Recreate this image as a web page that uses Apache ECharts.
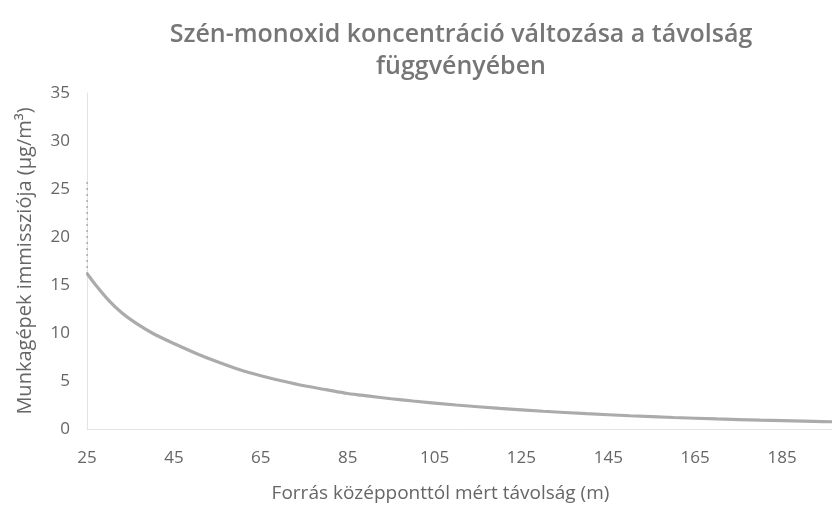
<!DOCTYPE html>
<html>
<head>
<meta charset="utf-8">
<script src="https://cdn.jsdelivr.net/npm/echarts@6/dist/echarts.min.js"></script>
<style>
  html, body { margin: 0; padding: 0; background: #ffffff; }
  #chart { width: 832px; height: 508px; }
</style>
</head>
<body>
<div id="chart"></div>
<script>
// Distance from the source centre (m)
const distances = [25, 27, 30, 33, 36, 40, 45, 50, 55, 60, 65, 70, 75, 80, 85, 90, 95, 100,
                   110, 120, 130, 140, 150, 160, 170, 180, 190, 200];
// CO immission from construction machinery (µg/m³)
const concentrations = [16.2, 15.0, 13.4, 12.1, 11.1, 10.0, 8.9, 7.9, 7.0, 6.2, 5.55, 5.0, 4.5, 4.1, 3.7, 3.42, 3.15, 2.92,
                        2.5, 2.15, 1.85, 1.6, 1.38, 1.2, 1.05, 0.92, 0.82, 0.72];
// Readings taken right at the 25 m boundary
const edgeDistances = [25, 25];
const edgeValues = [16.2, 26.2];

const titleLines = ['Szén-monoxid koncentráció változása a távolság', 'függvényében'];
const xName = 'Forrás középponttól mért távolság (m)';
const yName = 'Munkagépek immissziója (µg/m³)';

const font = '"Open Sans", "Noto Sans", sans-serif';
const chart = echarts.init(document.getElementById('chart'), null, { renderer: 'canvas' });

chart.setOption({
  backgroundColor: '#ffffff',
  animation: false,
  title: {
    text: titleLines.join('\n'),
    left: 456,
    top: 14,
    textAlign: 'center',
    textStyle: {
      fontFamily: font,
      fontSize: 25,
      fontWeight: 600,
      color: '#767676',
      lineHeight: 32
    }
  },
  grid: { left: 87, right: 0, top: 93, height: 337, containLabel: false },
  xAxis: {
    type: 'value',
    min: 25,
    max: 196.5,
    interval: 20,
    name: xName,
    nameLocation: 'middle',
    nameGap: 55,
    nameTextStyle: {
      fontFamily: font, fontSize: 19, color: '#666666',
      padding: [0, 38, 0, 0]
    },
    axisLine: { show: true, lineStyle: { color: '#e3e3e3', width: 1 } },
    axisTick: { show: false },
    splitLine: { show: false },
    axisLabel: {
      fontFamily: font, fontSize: 17, color: '#666666', margin: 21,
      showMaxLabel: false
    }
  },
  yAxis: {
    type: 'value',
    min: 0,
    max: 35,
    interval: 5,
    name: yName,
    nameLocation: 'middle',
    nameGap: 52,
    nameRotate: 90,
    nameTextStyle: { fontFamily: font, fontSize: 20, color: '#666666' },
    axisLine: { show: true, lineStyle: { color: '#e3e3e3', width: 1 } },
    axisTick: { show: false },
    splitLine: { show: false },
    axisLabel: { fontFamily: font, fontSize: 17, color: '#666666', margin: 17 }
  },
  series: [
    {
      type: 'line',
      data: distances.map((d, i) => [d, concentrations[i]]),
      smooth: 0.3,
      showSymbol: false,
      clip: true,
      lineStyle: { color: '#ababab', width: 3.2 },
      z: 2
    },
    {
      type: 'line',
      data: edgeDistances.map((d, i) => [d, edgeValues[i]]),
      showSymbol: false,
      lineStyle: { color: '#6a6a6a', width: 1.5, type: [1, 5] },
      z: 3
    }
  ]
});
</script>
</body>
</html>
